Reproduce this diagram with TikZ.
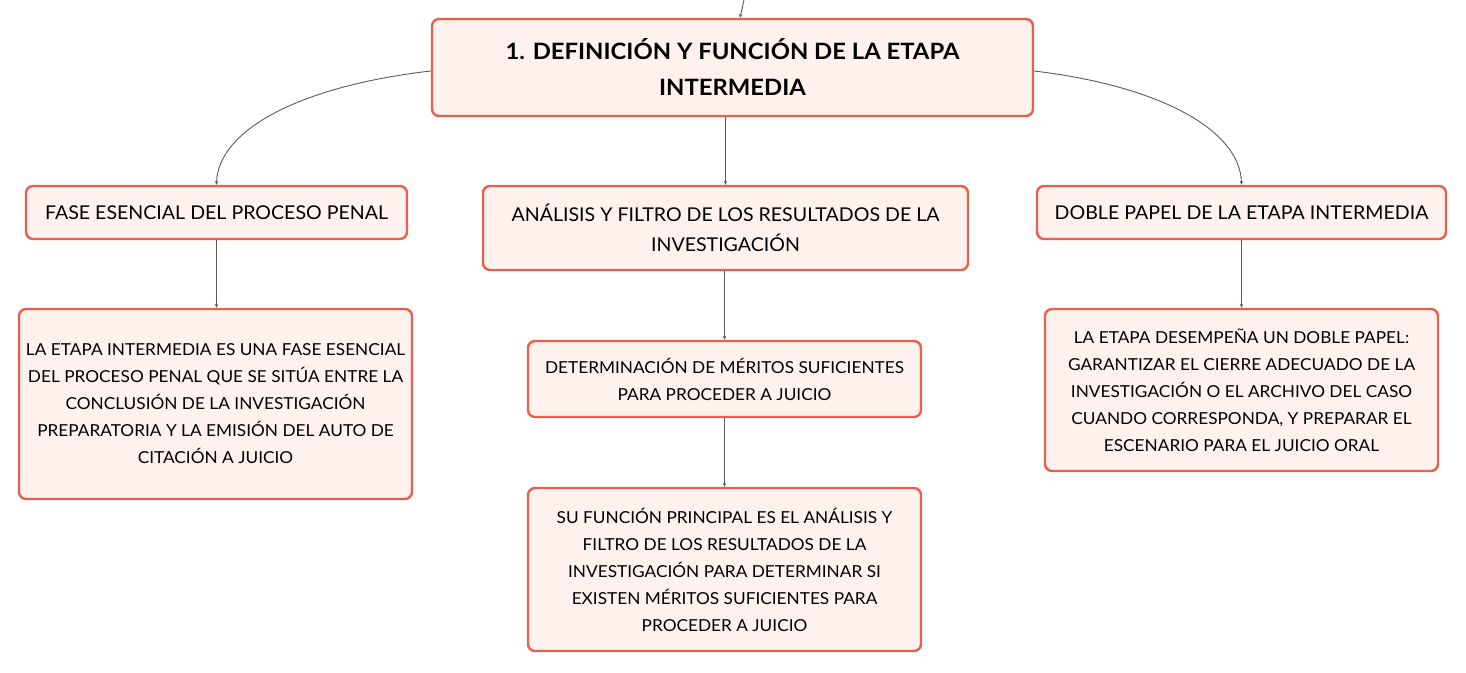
\documentclass[tikz,border=0pt]{standalone}
\usepackage{fontspec}
\setmainfont{Lato}
\newfontfamily\leaffont{Lato}[FakeStretch=1.045]
\newfontfamily\midfont{Lato}[FakeStretch=1.03]
\newfontfamily\titlefont{Lato}[FakeStretch=1.06]
\usetikzlibrary{arrows.meta}
\definecolor{bordc}{HTML}{E8604C}
\definecolor{fillc}{HTML}{FEF1EE}
\definecolor{linec}{HTML}{5A5A5A}
\tikzset{
  boxbase/.style={draw=bordc, fill=fillc, line width=2.4pt, rounded corners=7pt, inner sep=0pt, align=center, text=black},
  leaftext/.style={boxbase, font=\leaffont\fontsize{16.5}{27}\selectfont},
  midtext/.style={boxbase, font=\midfont\fontsize{19}{29.5}\selectfont},
  titletext/.style={boxbase, font=\titlefont\fontsize{22.5}{36}\selectfont\bfseries},
  conn/.style={draw=linec, line width=0.9pt, -{Stealth[length=4pt,width=3.5pt]}},
}
\begin{document}
\begin{tikzpicture}[x=1pt,y=-1pt]
\useasboundingbox (0,0) rectangle (1466,672);
% nodes
\node[titletext, minimum width=601pt, minimum height=97pt] (top) at (732.5,67.5) {1. DEFINICIÓN Y FUNCIÓN DE LA ETAPA\\INTERMEDIA};
\node[midtext, minimum width=381pt, minimum height=53pt] (a) at (216.5,212.5) {FASE ESENCIAL DEL PROCESO PENAL};
\node[midtext, minimum width=485pt, minimum height=84pt] (b) at (725.5,228) {ANÁLISIS Y FILTRO DE LOS RESULTADOS DE LA\\INVESTIGACIÓN};
\node[midtext, minimum width=409pt, minimum height=53pt] (c) at (1241.5,212.5) {DOBLE PAPEL DE LA ETAPA INTERMEDIA};
\node[leaftext, minimum width=393pt, minimum height=190pt] (a2) at (215.5,404) {LA ETAPA INTERMEDIA ES UNA FASE ESENCIAL\\DEL PROCESO PENAL QUE SE SITÚA ENTRE LA\\CONCLUSIÓN DE LA INVESTIGACIÓN\\PREPARATORIA Y LA EMISIÓN DEL AUTO DE\\CITACIÓN A JUICIO};
\node[leaftext, minimum width=393pt, minimum height=76pt] (b2) at (724.5,379) {DETERMINACIÓN DE MÉRITOS SUFICIENTES\\PARA PROCEDER A JUICIO};
\node[leaftext, minimum width=393pt, minimum height=163pt] (b3) at (724.5,569.5) {SU FUNCIÓN PRINCIPAL ES EL ANÁLISIS Y\\FILTRO DE LOS RESULTADOS DE LA\\INVESTIGACIÓN PARA DETERMINAR SI\\EXISTEN MÉRITOS SUFICIENTES PARA\\PROCEDER A JUICIO};
\node[leaftext, minimum width=393pt, minimum height=162pt] (c2) at (1241.5,390) {LA ETAPA DESEMPEÑA UN DOBLE PAPEL:\\GARANTIZAR EL CIERRE ADECUADO DE LA\\INVESTIGACIÓN O EL ARCHIVO DEL CASO\\CUANDO CORRESPONDA, Y PREPARAR EL\\ESCENARIO PARA EL JUICIO ORAL};
% free end at top
\coordinate (up) at (744,0);
% connectors
\draw[conn] (up) -- (top.north -| 740,0);
\draw[conn] (top.west |- 0,71) .. controls (300,86) and (218,130) .. (a.north);
\draw[conn] (top.south -| b.north) -- (b.north);
\draw[conn] (top.east |- 0,71) .. controls (1160,86) and (1240,130) .. (c.north);
\draw[conn] (a.south) -- (a.south |- a2.north);
\draw[conn] (b.south -| b2.north) -- (b2.north);
\draw[conn] (b2.south) -- (b3.north);
\draw[conn] (c.south) -- (c.south |- c2.north);
\end{tikzpicture}
\end{document}
